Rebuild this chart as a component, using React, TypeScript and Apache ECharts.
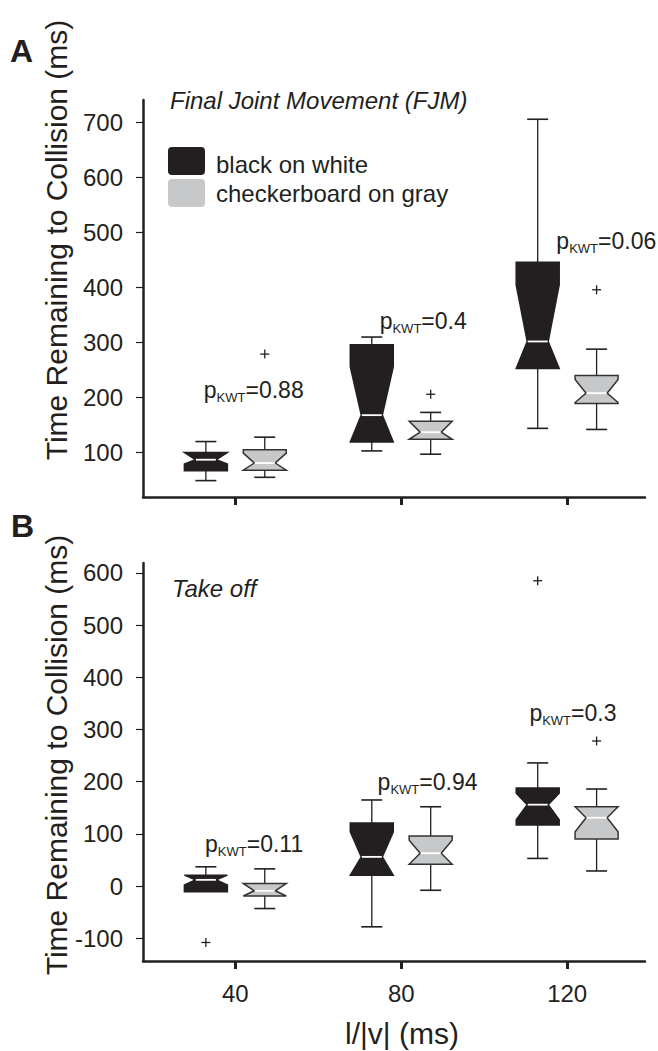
import React, { useEffect, useRef } from "react";
import * as echarts from "echarts";

// l/|v| categories (ms)
const categories = [40, 80, 120];

// Box rows: [whiskerLow, q1, notchLow, median, notchHigh, q3, whiskerHigh]
const fjmBlack = [
  [48, 66, 78, 86, 99, 99, 119],
  [102, 118, 118, 167, 255, 295, 309],
  [143, 252, 252, 301, 404, 445, 705],
];
const fjmGray = [
  [54, 67, 67, 80, 98, 104, 127],
  [96, 123, 123, 136, 156, 156, 172],
  [141, 188, 190, 207, 232, 239, 287],
];
const takeoffBlack = [
  [-11, -11, 2, 12, 21, 21, 37],
  [-78, 21, 21, 56, 104, 121, 165],
  [53, 117, 127, 156, 178, 188, 236],
];
const takeoffGray = [
  [-43, -19, -19, -9, 5, 5, 33],
  [-8, 42, 42, 63, 88, 96, 152],
  [29, 90, 104, 131, 152, 152, 186],
];

// Outliers: [category, value]
const fjmOutBlack: number[][] = [];
const fjmOutGray = [
  [40, 278],
  [80, 205],
  [120, 395],
];
const takeoffOutBlack = [
  [40, -108],
  [120, 585],
];
const takeoffOutGray = [[120, 278]];

// Tick labels
const yTicksA = [100, 200, 300, 400, 500, 600, 700];
const yTicksB = [-100, 0, 100, 200, 300, 400, 500, 600];

// Kruskal-Wallis p-values and their anchor positions (data units)
const pLabelsA = ["0.88", "0.4", "0.06"];
const pXA = [32.4, 74.8, 117.4];
const pYA = [213, 338, 484];
const pLabelsB = ["0.11", "0.94", "0.3"];
const pXB = [32.7, 74.3, 110.9];
const pYB = [81, 199, 332];

const BLACK = "#231f20";
const GRAY = "#c7c8ca";
const FONT = "'Liberation Sans', Arial, Helvetica, sans-serif";
const OFFSET = 7.1; // x offset of each box from its category (units)

function boxRenderer(fill: string, stroke: string, medianColor: string, offset: number) {
  return (params: any, api: any) => {
    const x = api.value(0) + offset;
    const v = [1, 2, 3, 4, 5, 6, 7].map((i) => api.value(i));
    const [whLo, q1, nLo, med, nHi, q3, whHi] = v;
    const cx = api.coord([x, med])[0];
    const y = (val: number) => api.coord([x, val])[1];
    const hw = 21.5;
    const inset = 11;
    const cap = 10.5;
    const children: any[] = [];
    const lineStyle = { stroke: BLACK, lineWidth: 1.3 };
    if (whHi > q3) {
      children.push({ type: "line", shape: { x1: cx, y1: y(q3), x2: cx, y2: y(whHi) }, style: lineStyle });
      children.push({ type: "line", shape: { x1: cx - cap, y1: y(whHi), x2: cx + cap, y2: y(whHi) }, style: { stroke: BLACK, lineWidth: 1.6 } });
    }
    if (whLo < q1) {
      children.push({ type: "line", shape: { x1: cx, y1: y(q1), x2: cx, y2: y(whLo) }, style: lineStyle });
      children.push({ type: "line", shape: { x1: cx - cap, y1: y(whLo), x2: cx + cap, y2: y(whLo) }, style: { stroke: BLACK, lineWidth: 1.6 } });
    }
    const pts = [
      [cx - hw, y(q3)],
      [cx + hw, y(q3)],
      [cx + hw, y(nHi)],
      [cx + hw - inset, y(med)],
      [cx + hw, y(nLo)],
      [cx + hw, y(q1)],
      [cx - hw, y(q1)],
      [cx - hw, y(nLo)],
      [cx - hw + inset, y(med)],
      [cx - hw, y(nHi)],
    ];
    children.push({
      type: "polygon",
      shape: { points: pts },
      style: { fill, stroke, lineWidth: 1.5, lineJoin: "miter" },
    });
    children.push({
      type: "line",
      shape: { x1: cx - hw + inset + 0.5, y1: y(med), x2: cx + hw - inset - 0.5, y2: y(med) },
      style: { stroke: medianColor, lineWidth: 1.8 },
    });
    return { type: "group", children };
  };
}

function plusRenderer(offset: number) {
  return (params: any, api: any) => {
    const p = api.coord([api.value(0) + offset, api.value(1)]);
    const s = 4.5;
    return {
      type: "group",
      children: [
        { type: "line", shape: { x1: p[0] - s, y1: p[1], x2: p[0] + s, y2: p[1] }, style: { stroke: BLACK, lineWidth: 1.3 } },
        { type: "line", shape: { x1: p[0], y1: p[1] - s, x2: p[0], y2: p[1] + s }, style: { stroke: BLACK, lineWidth: 1.3 } },
      ],
    };
  };
}

const toRows = (rows: number[][]) => rows.map((r, i) => [categories[i], ...r]);

const pRich = {
  p: { fontSize: 23, lineHeight: 28, color: BLACK, fontFamily: FONT, opacity: 1 },
  s: { fontSize: 13, lineHeight: 20, verticalAlign: "bottom", color: BLACK, fontFamily: FONT, opacity: 1 },
};

function pSeries(labels: string[], xs: number[], ys: number[], idx: number) {
  return {
    type: "scatter",
    xAxisIndex: idx,
    yAxisIndex: idx,
    symbolSize: 0,
    silent: true,
    itemStyle: { color: BLACK, opacity: 1 },
    data: labels.map((l, i) => [xs[i], ys[i], l]),
    label: {
      show: true,
      position: "right",
      distance: 0,
      color: BLACK,
      opacity: 1,
      formatter: (prm: any) => `{p|p}{s|KWT}{p|=${prm.value[2]}}`,
      rich: pRich,
    },
  };
}

export default function App() {
  const ref = useRef<HTMLDivElement>(null);
  useEffect(() => {
    document.body.style.margin = "0";
    document.body.style.overflow = "hidden";
    const chart = echarts.init(ref.current!, null, { renderer: "svg" });
    const xAxisBase = {
      type: "value",
      min: 17.74,
      max: 138.77,
      axisLine: { show: true, onZero: false, lineStyle: { color: BLACK, width: 2.5 } },
      axisTick: { show: true, inside: false, length: 8, lineStyle: { color: BLACK, width: 3 }, customValues: categories },
      splitLine: { show: false },
    };
    const yAxisBase = {
      type: "value",
      axisLine: { show: true, onZero: false, lineStyle: { color: BLACK, width: 2.5 } },
      axisTick: { show: true, inside: false, length: 7, lineStyle: { color: BLACK, width: 1.2 } },
      splitLine: { show: false },
    };
    const option: any = {
      animation: false,
      backgroundColor: "#ffffff",
      textStyle: { fontFamily: FONT },
      grid: [
        { left: 143, top: 100, width: 502, height: 397 },
        { left: 143, top: 563, width: 502, height: 398 },
      ],
      xAxis: [
        { ...xAxisBase, gridIndex: 0, axisLabel: { show: false } },
        {
          ...xAxisBase,
          gridIndex: 1,
          axisLabel: { show: true, customValues: categories, fontSize: 24, color: BLACK, margin: 20, fontFamily: FONT },
        },
      ],
      yAxis: [
        {
          ...yAxisBase,
          gridIndex: 0,
          min: 18.2,
          max: 740,
          axisTick: { ...yAxisBase.axisTick, customValues: yTicksA },
          axisLabel: { customValues: yTicksA, fontSize: 24, color: BLACK, margin: 20, fontFamily: FONT },
        },
        {
          ...yAxisBase,
          gridIndex: 1,
          min: -143.5,
          max: 619,
          axisTick: { ...yAxisBase.axisTick, customValues: yTicksB },
          axisLabel: { customValues: yTicksB, fontSize: 24, color: BLACK, margin: 20, fontFamily: FONT },
        },
      ],
      series: [
        { type: "custom", name: "black on white", xAxisIndex: 0, yAxisIndex: 0, renderItem: boxRenderer(BLACK, BLACK, "#ffffff", -OFFSET), data: toRows(fjmBlack), encode: { x: 0, y: [1, 2, 3, 4, 5, 6, 7] } },
        { type: "custom", name: "checkerboard on gray", xAxisIndex: 0, yAxisIndex: 0, renderItem: boxRenderer(GRAY, "#333333", "#ffffff", OFFSET), data: toRows(fjmGray), encode: { x: 0, y: [1, 2, 3, 4, 5, 6, 7] } },
        { type: "custom", xAxisIndex: 1, yAxisIndex: 1, renderItem: boxRenderer(BLACK, BLACK, "#ffffff", -OFFSET), data: toRows(takeoffBlack), encode: { x: 0, y: [1, 2, 3, 4, 5, 6, 7] } },
        { type: "custom", xAxisIndex: 1, yAxisIndex: 1, renderItem: boxRenderer(GRAY, "#333333", "#ffffff", OFFSET), data: toRows(takeoffGray), encode: { x: 0, y: [1, 2, 3, 4, 5, 6, 7] } },
        { type: "custom", xAxisIndex: 0, yAxisIndex: 0, renderItem: plusRenderer(-OFFSET), data: fjmOutBlack, encode: { x: 0, y: 1 } },
        { type: "custom", xAxisIndex: 0, yAxisIndex: 0, renderItem: plusRenderer(OFFSET), data: fjmOutGray, encode: { x: 0, y: 1 } },
        { type: "custom", xAxisIndex: 1, yAxisIndex: 1, renderItem: plusRenderer(-OFFSET), data: takeoffOutBlack, encode: { x: 0, y: 1 } },
        { type: "custom", xAxisIndex: 1, yAxisIndex: 1, renderItem: plusRenderer(OFFSET), data: takeoffOutGray, encode: { x: 0, y: 1 } },
        pSeries(pLabelsA, pXA, pYA, 0),
        pSeries(pLabelsB, pXB, pYB, 1),
      ],
      graphic: [
        { type: "text", x: 10, y: 51, style: { text: "A", font: `bold 32px ${FONT}`, fill: BLACK, verticalAlign: "middle", align: "left" } },
        { type: "text", x: 11, y: 526, style: { text: "B", font: `bold 32px ${FONT}`, fill: BLACK, verticalAlign: "middle", align: "left" } },
        { type: "text", x: 56, y: 240, rotation: Math.PI / 2, style: { text: "Time Remaining to Collision (ms)", font: `30px ${FONT}`, fill: BLACK, align: "center", verticalAlign: "middle" } },
        { type: "text", x: 56, y: 755, rotation: Math.PI / 2, style: { text: "Time Remaining to Collision (ms)", font: `30px ${FONT}`, fill: BLACK, align: "center", verticalAlign: "middle" } },
        { type: "text", x: 402, y: 1033, style: { text: "l/|v| (ms)", font: `30px ${FONT}`, fill: BLACK, align: "center", verticalAlign: "middle" } },
        { type: "text", x: 170, y: 100, style: { text: "Final Joint Movement (FJM)", font: `italic 24px ${FONT}`, fill: BLACK, align: "left", verticalAlign: "middle" } },
        { type: "text", x: 172, y: 588, style: { text: "Take off", font: `italic 24px ${FONT}`, fill: BLACK, align: "left", verticalAlign: "middle" } },
        { type: "rect", shape: { x: 168, y: 147, width: 37, height: 28, r: 4 }, style: { fill: BLACK } },
        { type: "rect", shape: { x: 168, y: 179, width: 37, height: 28, r: 4 }, style: { fill: GRAY } },
        { type: "text", x: 216, y: 164, style: { text: "black on white", font: `24px ${FONT}`, fill: BLACK, align: "left", verticalAlign: "middle" } },
        { type: "text", x: 216, y: 193, style: { text: "checkerboard on gray", font: `24px ${FONT}`, fill: BLACK, align: "left", verticalAlign: "middle" } },
      ],
    };
    chart.setOption(option);
    return () => chart.dispose();
  }, []);
  return <div ref={ref} style={{ position: "fixed", left: 0, top: 0, width: 658, height: 1051 }} />;
}
